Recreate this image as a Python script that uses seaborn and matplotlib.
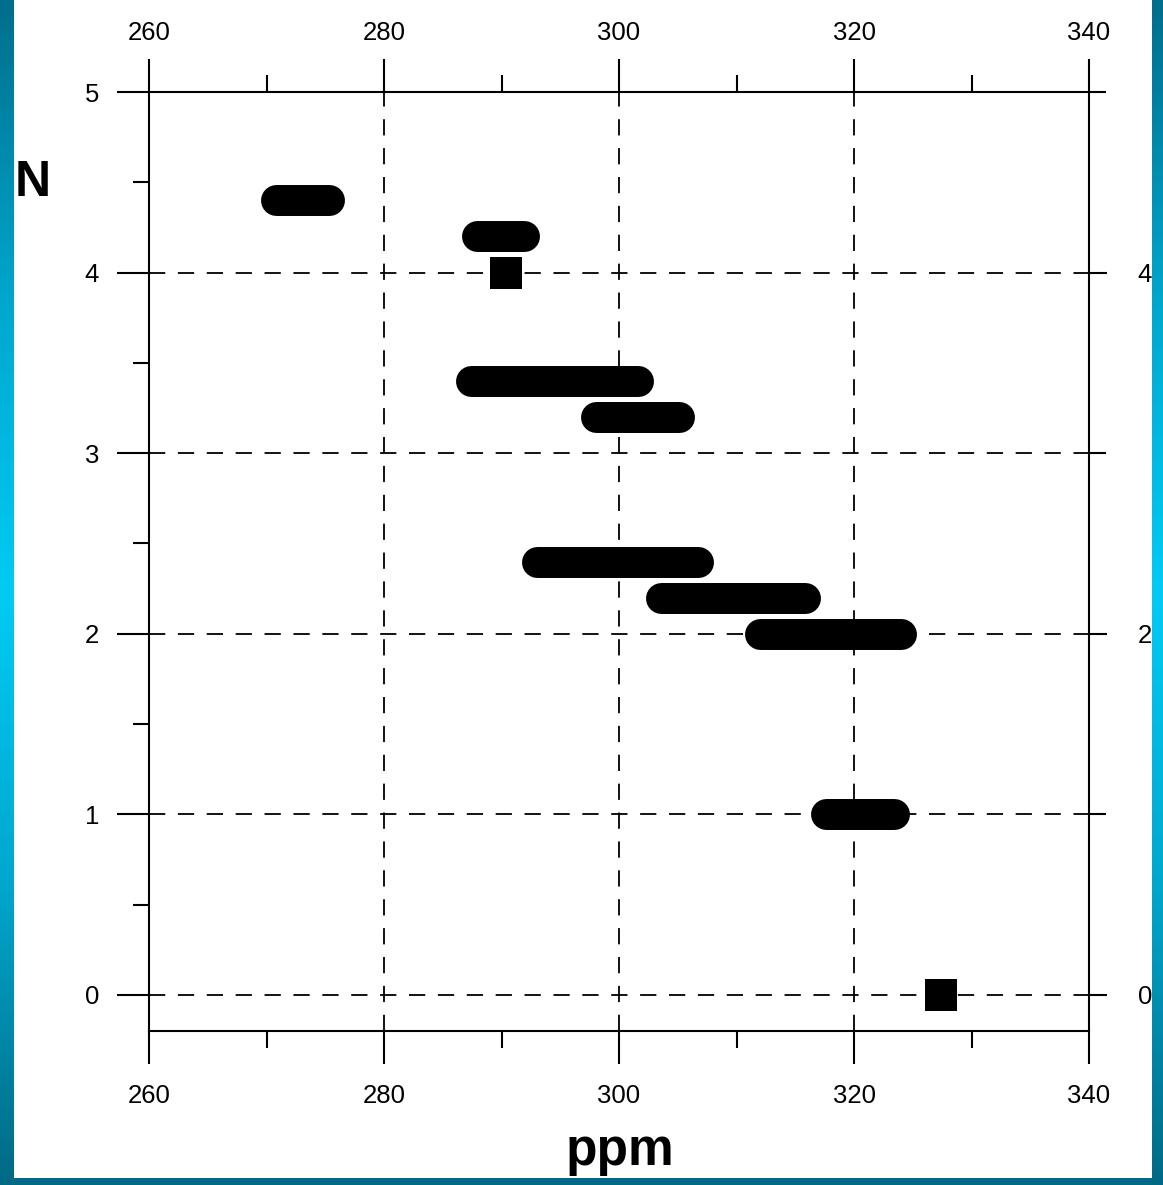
import numpy as np
import pandas as pd
import matplotlib
matplotlib.use("Agg")
import matplotlib.pyplot as plt
from matplotlib.colors import LinearSegmentedColormap
from matplotlib.ticker import FixedLocator
import seaborn as sns

# ---- data -------------------------------------------------------------
bar_N = [4.4, 4.2, 3.4, 3.2, 2.4, 2.2, 2.0, 1.0]
bar_start = [270.8, 287.9, 287.4, 298.0, 293.0, 303.6, 312.0, 317.6]
bar_end = [275.3, 291.9, 301.6, 305.1, 306.7, 315.8, 324.0, 323.4]

point_ppm = [290.4, 327.4]
point_N = [4.0, 0.0]

x_major = [260, 280, 300, 320, 340]
x_minor = [270, 290, 310, 330]
y_left_major = [0, 1, 2, 3, 4, 5]
y_left_minor = [0.5, 1.5, 2.5, 3.5, 4.5]
y_right_major = [0, 2, 4]
y_right_minor = [1, 3, 5]

# ---- style ------------------------------------------------------------
sns.set_style("white")
plt.rcParams["font.family"] = ["Liberation Sans", "DejaVu Sans"]
plt.rcParams["text.color"] = "black"
plt.rcParams["xtick.color"] = "black"
plt.rcParams["ytick.color"] = "black"
plt.rcParams["xtick.labelcolor"] = "black"
plt.rcParams["ytick.labelcolor"] = "black"

LABEL_SIZE = 18.5

W, H, DPI = 1163, 1185, 100
fig = plt.figure(figsize=(W / DPI, H / DPI), dpi=DPI)
fig.patch.set_facecolor("white")

ax = fig.add_axes([149 / W, 1 - 1031 / H, (1089 - 149) / W, (1031 - 92) / H])
ax.set_facecolor("white")

rows = []
for i, (n, a, b) in enumerate(zip(bar_N, bar_start, bar_end)):
    rows.append({"bar": i, "ppm": a, "N": n})
    rows.append({"bar": i, "ppm": b, "N": n})
bars = pd.DataFrame(rows)

sns.lineplot(data=bars, x="ppm", y="N", units="bar", estimator=None,
             sort=False, color="black", linewidth=22.3, legend=False, ax=ax,
             zorder=3)
for ln in ax.lines:
    ln.set_solid_capstyle("round")

pts = pd.DataFrame({"ppm": point_ppm, "N": point_N})
sns.scatterplot(data=pts, x="ppm", y="N", marker="s", s=540, color="black",
                linewidth=0, ax=ax, zorder=4, clip_on=False)

ax.set_xlim(260, 340)
ax.set_ylim(-0.2, 5)
ax.set_xlabel("")
ax.set_ylabel("")

# dashed grid
dash = (0, (9, 7))
for xv in [280, 300, 320]:
    ax.axvline(xv, color="black", lw=1.3, linestyle=dash, zorder=1)
for yv in [0, 1, 2, 3, 4]:
    ax.axhline(yv, color="black", lw=1.3, linestyle=dash, zorder=1)

for sp in ax.spines.values():
    sp.set_visible(True)
    sp.set_color("black")
    sp.set_linewidth(1.5)

ax.xaxis.set_major_locator(FixedLocator(x_major))
ax.xaxis.set_minor_locator(FixedLocator(x_minor))
ax.yaxis.set_major_locator(FixedLocator(y_left_major))
ax.yaxis.set_minor_locator(FixedLocator(y_left_minor))
ax.set_xticklabels([str(v) for v in x_major])
ax.set_yticklabels([str(v) for v in y_left_major])

ax.tick_params(axis="x", which="both", direction="out", top=False, bottom=True,
               labeltop=False, labelbottom=True, color="black", width=1.5)
ax.tick_params(axis="x", which="major", length=24, pad=14, labelsize=LABEL_SIZE,
               labelcolor="black")
ax.tick_params(axis="x", which="minor", length=12)
ax.tick_params(axis="y", which="both", direction="out", left=True, right=False,
               color="black", width=1.5)
ax.tick_params(axis="y", which="major", length=23, pad=13, labelsize=LABEL_SIZE,
               labelcolor="black")
ax.tick_params(axis="y", which="minor", length=11.5)

# top scale
axt = ax.twiny()
axt.set_xlim(260, 340)
axt.xaxis.set_major_locator(FixedLocator(x_major))
axt.xaxis.set_minor_locator(FixedLocator(x_minor))
axt.set_xticklabels([str(v) for v in x_major])
axt.tick_params(axis="x", which="both", direction="out", color="black", width=1.5)
axt.tick_params(axis="x", which="major", length=24, pad=10, labelsize=LABEL_SIZE,
                labelcolor="black")
axt.tick_params(axis="x", which="minor", length=12)
for sp in axt.spines.values():
    sp.set_visible(False)

# right scale
axr = ax.twinx()
axr.set_ylim(-0.2, 5)
axr.yaxis.set_major_locator(FixedLocator(y_right_major))
axr.yaxis.set_minor_locator(FixedLocator(y_right_minor))
axr.set_yticklabels([str(v) for v in y_right_major])
axr.tick_params(axis="y", which="both", direction="out", color="black", width=1.5)
axr.tick_params(axis="y", which="major", length=13, pad=22, labelsize=LABEL_SIZE,
                labelcolor="black")
axr.tick_params(axis="y", which="minor", length=12)
for sp in axr.spines.values():
    sp.set_visible(False)

fig.text(33 / W, 1 - 183 / H, "N", fontsize=36, fontweight="bold",
         ha="center", va="center", color="black")
fig.text(620 / W, 1 - 1151 / H, "ppm", fontsize=37, fontweight="bold",
         ha="center", va="center", color="black")

# ---- teal frame on left, right and bottom edges -------------------------
frame_cmap = LinearSegmentedColormap.from_list(
    "frame", ["#006e8c", "#00a6cc", "#00cbf5", "#00a6cc", "#006a85"])
grad = np.linspace(0, 1, 256).reshape(-1, 1)
for x0, w in [(0, 14), (1152, 11)]:
    fa = fig.add_axes([x0 / W, 0, w / W, 1])
    fa.imshow(grad, aspect="auto", cmap=frame_cmap, extent=(0, 1, 0, 1),
              origin="upper")
    fa.set_axis_off()
fb = fig.add_axes([0, 0, 1, 7 / H])
fb.set_facecolor("#006a84")
fb.set_xticks([])
fb.set_yticks([])
for sp in fb.spines.values():
    sp.set_visible(False)

fig.savefig("out.png", dpi=DPI)
